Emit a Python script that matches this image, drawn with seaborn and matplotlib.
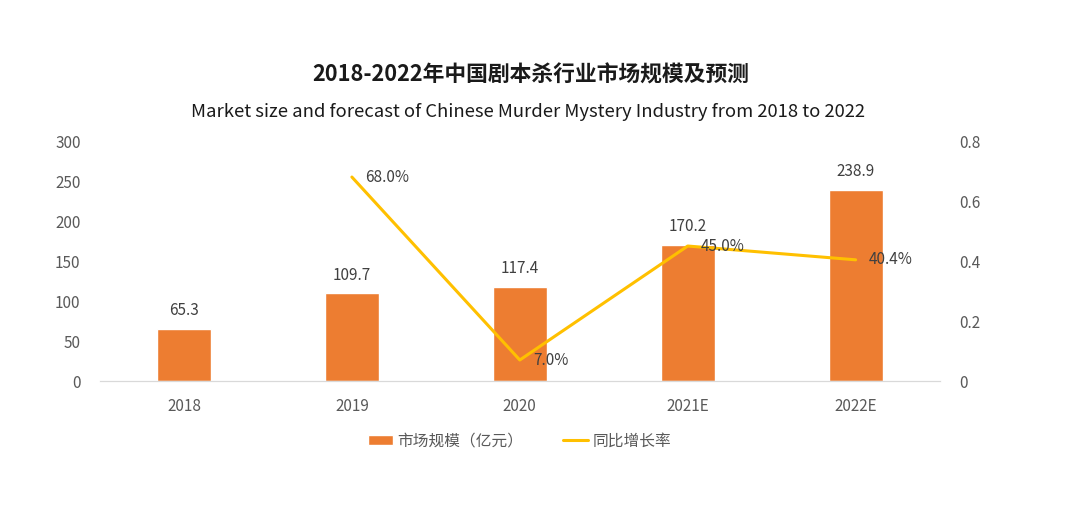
import numpy as np
import pandas as pd
import seaborn as sns
import matplotlib.pyplot as plt
from matplotlib.patches import Patch
from matplotlib.lines import Line2D

years = ["2018", "2019", "2020", "2021E", "2022E"]
market_size = [65.3, 109.7, 117.4, 170.2, 238.9]
growth = [np.nan, 0.68, 0.07, 0.45, 0.404]
growth_labels = ["", "68.0%", "7.0%", "45.0%", "40.4%"]

df = pd.DataFrame({"year": years, "size": market_size, "growth": growth})

sns.set_style("white")
plt.rcParams["font.family"] = ["Noto Sans CJK SC", "DejaVu Sans"]

bar_color = "#ED7D31"
line_color = "#FFC000"
text_grey = "#595959"

fig = plt.figure(figsize=(10.8, 5.11), dpi=100)
ax = fig.add_axes([0.0926, 0.2544, 0.7774, 0.4696])

sns.barplot(data=df, x="year", y="size", color=bar_color, width=0.32,
            saturation=1, ax=ax)
ax.set_ylim(0, 300)
ax.set_xlim(-0.5, 4.5)
ax.set_yticks(range(0, 301, 50))
ax.set_xlabel("")
ax.set_ylabel("")
for i, v in enumerate(market_size):
    ax.text(i, v + 12, f"{v:.1f}", ha="center", va="bottom", fontsize=11, color="#404040")

ax2 = ax.twinx()
sns.lineplot(x=np.arange(len(years)), y=df["growth"], color=line_color,
             linewidth=2.2, ax=ax2)
ax2.set_ylim(0, 0.8)
ax2.set_yticks([0, 0.2, 0.4, 0.6, 0.8])
ax2.set_yticklabels(["0", "0.2", "0.4", "0.6", "0.8"])
ax2.set_ylabel("")
for i, (g, lab) in enumerate(zip(growth, growth_labels)):
    if lab:
        ax2.text(i + 0.08, g, lab, ha="left", va="center",
                 fontsize=11, color="#404040")

for a in (ax, ax2):
    for s in ("top", "left", "right"):
        a.spines[s].set_visible(False)
    a.spines["bottom"].set_color("#d9d9d9")
    a.tick_params(axis="both", length=0, colors=text_grey, labelsize=11)
ax.tick_params(axis="y", pad=14)
ax2.tick_params(axis="y", pad=14)
ax.tick_params(axis="x", pad=12)

fig.text(0.491, 0.853, "2018-2022年中国剧本杀行业市场规模及预测", ha="center", va="center",
         fontsize=15.7, fontweight="bold", color="#1a1a1a")
fig.text(0.489, 0.781, "Market size and forecast of Chinese Murder Mystery Industry from 2018 to 2022",
         ha="center", va="center", fontsize=13.3, color="#1a1a1a")

handles = [Patch(facecolor=bar_color, label="市场规模（亿元）"),
           Line2D([0], [0], color=line_color, linewidth=2.2, label="同比增长率")]
fig.legend(handles=handles, loc="center", bbox_to_anchor=(0.481, 0.137), ncol=2,
           frameon=False, fontsize=11.3, handlelength=1.6, handletextpad=0.3,
           columnspacing=2.5, labelcolor=text_grey)

fig.savefig("out.png", dpi=100)
